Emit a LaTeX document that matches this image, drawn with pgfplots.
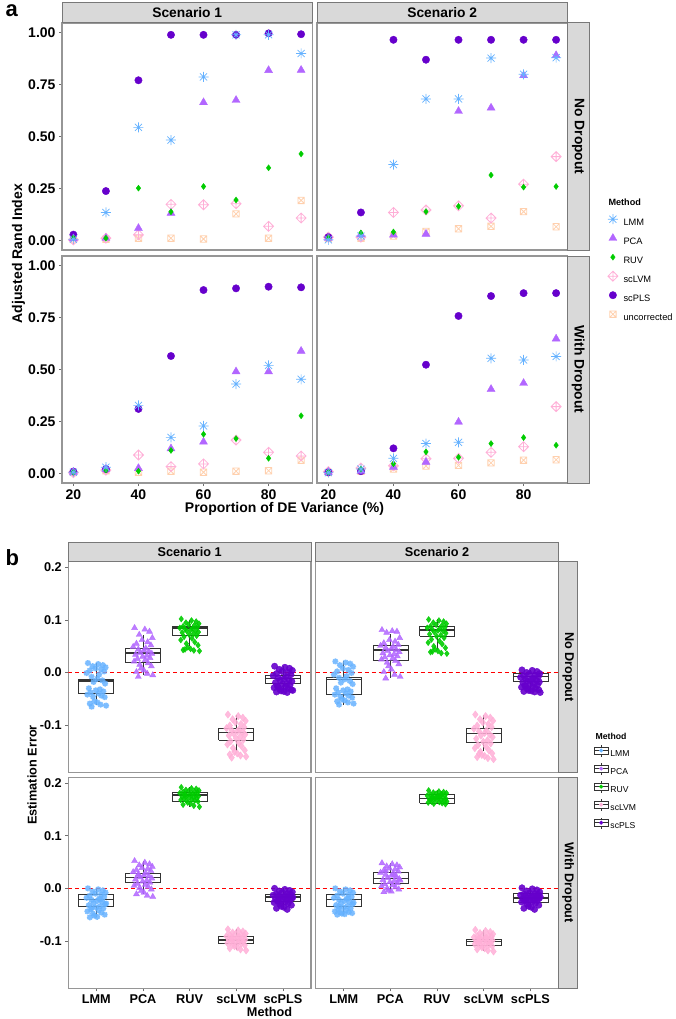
\documentclass[border=0pt]{standalone}
\usepackage{pgfplots}
\pgfplotsset{compat=1.18}
\usepackage{pgfplotstable}
\usepackage{fontspec}
\setmainfont{Liberation Sans}

\definecolor{lmmc}{RGB}{102,178,255}
\definecolor{pcac}{RGB}{178,102,255}
\definecolor{ruvc}{RGB}{0,204,0}
\definecolor{lvmc}{RGB}{255,175,215}
\definecolor{plsc}{RGB}{102,0,204}
\definecolor{uncc}{RGB}{255,200,160}
\definecolor{stripc}{RGB}{217,217,217}
\definecolor{stripb}{RGB}{120,120,120}
\definecolor{bordc}{RGB}{150,150,150}
\definecolor{tickc}{RGB}{110,110,110}

% ggplot-like point shapes
\pgfdeclareplotmark{star8}{%
  \pgfpathmoveto{\pgfqpoint{-\pgfplotmarksize}{0pt}}\pgfpathlineto{\pgfqpoint{\pgfplotmarksize}{0pt}}%
  \pgfpathmoveto{\pgfqpoint{0pt}{-\pgfplotmarksize}}\pgfpathlineto{\pgfqpoint{0pt}{\pgfplotmarksize}}%
  \pgfpathmoveto{\pgfqpoint{-.707\pgfplotmarksize}{-.707\pgfplotmarksize}}\pgfpathlineto{\pgfqpoint{.707\pgfplotmarksize}{.707\pgfplotmarksize}}%
  \pgfpathmoveto{\pgfqpoint{-.707\pgfplotmarksize}{.707\pgfplotmarksize}}\pgfpathlineto{\pgfqpoint{.707\pgfplotmarksize}{-.707\pgfplotmarksize}}%
  \pgfusepathqstroke}
\pgfdeclareplotmark{diamondplus}{%
  \pgfpathmoveto{\pgfqpoint{\pgfplotmarksize}{0pt}}\pgfpathlineto{\pgfqpoint{0pt}{\pgfplotmarksize}}%
  \pgfpathlineto{\pgfqpoint{-\pgfplotmarksize}{0pt}}\pgfpathlineto{\pgfqpoint{0pt}{-\pgfplotmarksize}}\pgfpathclose
  \pgfpathmoveto{\pgfqpoint{-\pgfplotmarksize}{0pt}}\pgfpathlineto{\pgfqpoint{\pgfplotmarksize}{0pt}}%
  \pgfpathmoveto{\pgfqpoint{0pt}{-\pgfplotmarksize}}\pgfpathlineto{\pgfqpoint{0pt}{\pgfplotmarksize}}%
  \pgfusepathqstroke}
\pgfdeclareplotmark{squarex}{%
  \pgfpathrectangle{\pgfqpoint{-.8\pgfplotmarksize}{-.8\pgfplotmarksize}}{\pgfqpoint{1.6\pgfplotmarksize}{1.6\pgfplotmarksize}}%
  \pgfpathmoveto{\pgfqpoint{-.8\pgfplotmarksize}{-.8\pgfplotmarksize}}\pgfpathlineto{\pgfqpoint{.8\pgfplotmarksize}{.8\pgfplotmarksize}}%
  \pgfpathmoveto{\pgfqpoint{-.8\pgfplotmarksize}{.8\pgfplotmarksize}}\pgfpathlineto{\pgfqpoint{.8\pgfplotmarksize}{-.8\pgfplotmarksize}}%
  \pgfusepathqstroke}

\pgfplotsset{
  base/.style={scale only axis, anchor=north west,
    axis line style={draw=bordc, line width=1.1pt},
    tick style={draw=tickc, line width=0.8pt},
    tick align=outside, major tick length=3pt, tick pos=left},
  aPanel/.style={base, width=250.5pt, height=227pt,
    xmin=16.5, xmax=93.5, ymin=-0.047, ymax=1.047,
    xtick={20,40,60,80}, xticklabels={20,40,60,80},
    ytick={0,0.25,0.5,0.75,1}, yticklabels={0.00,0.25,0.50,0.75,1.00},
    tick label style={font=\fontsize{14}{14}\selectfont\bfseries}},
  bPanel/.style={base, width=242.7pt,
    xmin=0.4, xmax=5.6, ymin=-0.19, ymax=0.211,
    xtick={1,2,3,4,5}, xticklabels={LMM,PCA,RUV,scLVM,scPLS},
    ytick={-0.1,0,0.1,0.2}, yticklabels={-0.1,0.0,0.1,0.2},
    tick label style={font=\fontsize{12.7}{12.7}\selectfont\bfseries}},
  mLMM/.style={color=lmmc, mark=star8, mark size=5pt, line width=0.7pt},
  mPCA/.style={color=pcac, mark=triangle*, mark size=4.6pt},
  mRUV/.style={color=ruvc, mark=diamond*, mark size=3pt},
  mLVM/.style={color=lvmc, mark=diamondplus, mark size=5pt, line width=0.8pt},
  mPLS/.style={color=plsc, mark=*, mark size=3.7pt},
  mUNC/.style={color=uncc, mark=squarex, mark size=4pt, line width=0.8pt, opacity=0.85},
  pLMM/.style={color=lmmc, mark=star8, mark size=3pt, line width=1.5pt, opacity=0.85},
  pPCA/.style={color=pcac, mark=triangle*, mark size=3.5pt, opacity=0.85},
  pRUV/.style={color=ruvc, mark=diamond*, mark size=3pt, opacity=0.9},
  pLVM/.style={color=lvmc, mark=diamond*, mark size=3.7pt, opacity=0.85},
  pPLS/.style={color=plsc, mark=*, mark size=3.2pt, opacity=0.9},
  bxleg/.style={legend image code/.code={%
    \path[draw=none,fill=none] (0pt,-3pt) rectangle (14pt,8.5pt);
    \draw[black!80,line width=0.6pt] (0pt,-0.2pt) rectangle (14pt,6.8pt)
      (0pt,3.3pt)--(14pt,3.3pt) (7pt,6.8pt)--(7pt,8.5pt) (7pt,-0.2pt)--(7pt,-3pt);
    \fill[#1] (7pt,3.3pt) circle (1.8pt);}},
}

% a: Adjusted Rand Index by proportion of DE variance
\pgfplotstableread{
x LMM PCA RUV scLVM scPLS unc
20 0.005 0.008 0.012 0.002 0.027 0.003
30 0.134 0.010 0.010 0.010 0.237 0.005
40 0.544 0.058 0.251 0.026 0.771 0.010
50 0.483 0.131 0.137 0.173 0.990 0.010
60 0.787 0.664 0.259 0.171 0.990 0.006
70 0.990 0.675 0.194 0.176 0.990 0.127
80 0.990 0.819 0.349 0.067 0.997 0.010
90 0.900 0.820 0.416 0.107 0.993 0.192
}\tAa
\pgfplotstableread{
x LMM PCA RUV scLVM scPLS unc
20 0.002 0.010 0.012 0.015 0.015 0.008
30 0.020 0.027 0.035 0.015 0.134 0.010
40 0.365 0.026 0.040 0.134 0.966 0.020
50 0.681 0.030 0.138 0.146 0.870 0.042
60 0.681 0.622 0.163 0.166 0.966 0.055
70 0.878 0.638 0.314 0.107 0.966 0.067
80 0.800 0.794 0.256 0.270 0.966 0.138
90 0.880 0.891 0.259 0.403 0.966 0.065
}\tAb
\pgfplotstableread{
x LMM PCA RUV scLVM scPLS unc
20 0.005 0.006 0.005 0.003 0.008 0.004
30 0.029 0.020 0.015 0.015 0.020 0.012
40 0.327 0.024 0.010 0.088 0.310 0.005
50 0.173 0.119 0.110 0.032 0.565 0.010
60 0.228 0.151 0.188 0.045 0.883 0.005
70 0.430 0.490 0.167 0.160 0.891 0.010
80 0.520 0.490 0.072 0.101 0.899 0.012
90 0.453 0.589 0.277 0.083 0.896 0.063
}\tAc
\pgfplotstableread{
x LMM PCA RUV scLVM scPLS unc
20 0.003 0.005 0.005 0.008 0.005 0.004
30 0.020 0.010 0.020 0.025 0.010 0.010
40 0.072 0.030 0.046 0.036 0.120 0.020
50 0.143 0.054 0.103 0.070 0.523 0.035
60 0.149 0.247 0.077 0.072 0.758 0.038
70 0.554 0.405 0.143 0.101 0.854 0.050
80 0.546 0.434 0.172 0.128 0.868 0.063
90 0.563 0.648 0.135 0.321 0.868 0.065
}\tAd

% b: estimation error, dx = jitter offset from the category position
\pgfplotstableread{
dx LMM PCA RUV scLVM scPLS
-0.18 0.018 0.085 0.102 -0.080 0.012
0.04 0.016 0.082 0.099 -0.083 0.010
0.14 0.014 0.078 0.097 -0.086 0.008
-0.08 0.012 0.072 0.095 -0.089 0.006
0.20 0.010 0.066 0.093 -0.092 0.004
-0.02 0.008 0.062 0.091 -0.095 0.002
0.10 0.006 0.058 0.090 -0.098 0.000
-0.14 0.004 0.055 0.088 -0.101 -0.002
0.17 0.002 0.052 0.087 -0.104 -0.004
-0.21 -0.001 0.049 0.085 -0.106 -0.006
0.06 -0.004 0.046 0.084 -0.108 -0.008
-0.10 -0.008 0.044 0.083 -0.110 -0.010
0.02 -0.012 0.042 0.081 -0.112 -0.012
0.13 -0.015 0.040 0.080 -0.114 -0.014
-0.06 -0.018 0.038 0.079 -0.116 -0.015
0.19 -0.021 0.036 0.077 -0.118 -0.017
-0.16 -0.030 0.034 0.076 -0.120 -0.019
0.08 -0.032 0.032 0.074 -0.122 -0.021
-0.01 -0.034 0.030 0.072 -0.125 -0.022
0.15 -0.036 0.028 0.070 -0.128 -0.024
-0.12 -0.038 0.026 0.068 -0.131 -0.026
0.05 -0.040 0.024 0.065 -0.134 -0.027
-0.19 -0.042 0.021 0.062 -0.137 -0.029
0.11 -0.044 0.018 0.058 -0.140 -0.030
-0.07 -0.046 0.015 0.055 -0.144 -0.032
0.18 -0.047 0.012 0.052 -0.148 -0.033
-0.04 -0.055 0.008 0.048 -0.151 -0.035
0.02 -0.057 0.004 0.045 -0.154 -0.036
-0.14 -0.059 0.001 0.043 -0.156 -0.037
0.09 -0.061 -0.002 0.042 -0.158 -0.038
0.21 -0.063 -0.005 0.041 -0.160 -0.034
-0.10 -0.065 -0.008 0.044 -0.162 -0.028
}\tBa
\pgfplotstableread{
dx LMM PCA RUV scLVM scPLS
-0.18 0.021 0.081 0.101 -0.080 0.005
0.04 0.019 0.079 0.099 -0.083 0.004
0.14 0.017 0.078 0.097 -0.086 0.002
-0.08 0.014 0.076 0.095 -0.089 0.000
0.20 0.011 0.066 0.093 -0.092 -0.002
-0.02 0.008 0.062 0.091 -0.095 -0.003
0.10 0.005 0.059 0.089 -0.098 -0.005
-0.14 0.002 0.056 0.088 -0.101 -0.006
0.17 -0.001 0.053 0.086 -0.104 -0.008
-0.21 -0.004 0.051 0.085 -0.107 -0.009
0.06 -0.007 0.049 0.083 -0.110 -0.011
-0.10 -0.010 0.047 0.082 -0.112 -0.012
0.02 -0.013 0.045 0.080 -0.115 -0.014
0.13 -0.016 0.043 0.079 -0.118 -0.015
-0.06 -0.019 0.041 0.077 -0.120 -0.016
0.19 -0.022 0.039 0.075 -0.123 -0.018
-0.16 -0.030 0.037 0.073 -0.126 -0.019
0.08 -0.032 0.035 0.071 -0.129 -0.021
-0.01 -0.034 0.033 0.069 -0.132 -0.022
0.15 -0.036 0.031 0.066 -0.135 -0.024
-0.12 -0.038 0.029 0.063 -0.138 -0.025
0.05 -0.040 0.027 0.060 -0.141 -0.027
-0.19 -0.042 0.025 0.057 -0.144 -0.028
0.11 -0.044 0.022 0.054 -0.148 -0.030
-0.07 -0.046 0.019 0.050 -0.151 -0.031
0.18 -0.048 0.016 0.047 -0.154 -0.033
-0.04 -0.051 0.012 0.044 -0.157 -0.034
0.02 -0.053 0.006 0.041 -0.159 -0.035
-0.14 -0.055 0.001 0.039 -0.161 -0.036
0.09 -0.057 -0.004 0.037 -0.163 -0.037
0.21 -0.059 -0.008 0.036 -0.165 -0.038
-0.10 -0.061 -0.011 0.040 -0.155 -0.026
}\tBb
\pgfplotstableread{
dx LMM PCA RUV scLVM scPLS
-0.18 0.000 0.052 0.192 -0.078 0.000
0.04 -0.002 0.049 0.190 -0.080 -0.002
0.14 -0.004 0.046 0.189 -0.082 -0.004
-0.08 -0.006 0.044 0.187 -0.084 -0.005
0.20 -0.008 0.041 0.186 -0.086 -0.007
-0.02 -0.010 0.039 0.185 -0.087 -0.008
0.10 -0.012 0.037 0.184 -0.088 -0.010
-0.14 -0.014 0.035 0.183 -0.089 -0.011
0.17 -0.016 0.033 0.182 -0.090 -0.012
-0.21 -0.018 0.031 0.181 -0.091 -0.013
0.06 -0.020 0.029 0.180 -0.092 -0.014
-0.10 -0.022 0.027 0.179 -0.093 -0.015
0.02 -0.024 0.025 0.178 -0.094 -0.016
0.13 -0.026 0.023 0.177 -0.095 -0.017
-0.06 -0.028 0.021 0.176 -0.096 -0.018
0.19 -0.030 0.019 0.175 -0.097 -0.019
-0.16 -0.032 0.017 0.174 -0.098 -0.020
0.08 -0.034 0.015 0.173 -0.099 -0.021
-0.01 -0.036 0.013 0.172 -0.100 -0.022
0.15 -0.038 0.011 0.171 -0.101 -0.023
-0.12 -0.040 0.009 0.170 -0.102 -0.024
0.05 -0.042 0.007 0.169 -0.103 -0.026
-0.19 -0.044 0.005 0.168 -0.104 -0.027
0.11 -0.046 0.003 0.167 -0.105 -0.029
-0.07 -0.048 0.001 0.166 -0.106 -0.030
0.18 -0.050 -0.002 0.165 -0.108 -0.032
-0.04 -0.052 -0.005 0.163 -0.110 -0.034
0.02 -0.054 -0.008 0.161 -0.112 -0.036
-0.14 -0.055 -0.011 0.159 -0.114 -0.038
0.09 -0.021 -0.014 0.157 -0.116 -0.040
0.21 -0.029 -0.016 0.155 -0.118 -0.017
-0.10 -0.037 0.024 0.176 -0.097 -0.025
}\tBc
\pgfplotstableread{
dx LMM PCA RUV scLVM scPLS
-0.18 0.000 0.048 0.186 -0.079 0.001
0.04 -0.002 0.046 0.184 -0.081 -0.001
0.14 -0.004 0.044 0.183 -0.083 -0.003
-0.08 -0.006 0.042 0.182 -0.085 -0.005
0.20 -0.008 0.040 0.181 -0.087 -0.007
-0.02 -0.010 0.038 0.180 -0.089 -0.009
0.10 -0.012 0.036 0.179 -0.090 -0.010
-0.14 -0.014 0.034 0.178 -0.091 -0.011
0.17 -0.016 0.032 0.177 -0.092 -0.012
-0.21 -0.018 0.030 0.176 -0.093 -0.013
0.06 -0.020 0.028 0.175 -0.094 -0.014
-0.10 -0.022 0.026 0.174 -0.095 -0.015
0.02 -0.024 0.024 0.173 -0.096 -0.016
0.13 -0.026 0.022 0.172 -0.097 -0.017
-0.06 -0.028 0.020 0.171 -0.098 -0.018
0.19 -0.030 0.018 0.170 -0.099 -0.019
-0.16 -0.032 0.016 0.169 -0.100 -0.020
0.08 -0.034 0.014 0.168 -0.101 -0.021
-0.01 -0.036 0.012 0.167 -0.102 -0.022
0.15 -0.038 0.010 0.166 -0.103 -0.023
-0.12 -0.040 0.008 0.165 -0.104 -0.024
0.05 -0.042 0.006 0.164 -0.105 -0.025
-0.19 -0.044 0.004 0.163 -0.106 -0.026
0.11 -0.045 0.002 0.162 -0.107 -0.028
-0.07 -0.046 0.000 0.161 -0.108 -0.030
0.18 -0.047 -0.002 0.160 -0.110 -0.032
-0.04 -0.048 -0.004 0.171 -0.112 -0.034
0.02 -0.049 -0.006 0.175 -0.114 -0.036
-0.14 -0.050 -0.007 0.168 -0.116 -0.038
0.09 -0.019 0.025 0.178 -0.118 -0.040
0.21 -0.027 0.015 0.165 -0.120 -0.016
-0.10 -0.035 0.033 0.172 -0.100 -0.022
}\tBd

\newcommand\Apoints[1]{%
  \addplot[only marks,mUNC,forget plot] table[x=x,y=unc]{#1};
  \addplot[only marks,mLVM,forget plot] table[x=x,y=scLVM]{#1};
  \addplot[only marks,mPLS,forget plot] table[x=x,y=scPLS]{#1};
  \addplot[only marks,mPCA,forget plot] table[x=x,y=PCA]{#1};
  \addplot[only marks,mRUV,forget plot] table[x=x,y=RUV]{#1};
  \addplot[only marks,mLMM,forget plot] table[x=x,y=LMM]{#1};
}
\newcommand\Bpoints[1]{%
  \addplot[only marks,pLMM,forget plot] table[x expr=\thisrow{dx}+1,y=LMM]{#1};
  \addplot[only marks,pPCA,forget plot] table[x expr=\thisrow{dx}+2,y=PCA]{#1};
  \addplot[only marks,pRUV,forget plot] table[x expr=\thisrow{dx}+3,y=RUV]{#1};
  \addplot[only marks,pLVM,forget plot] table[x expr=\thisrow{dx}+4,y=scLVM]{#1};
  \addplot[only marks,pPLS,forget plot] table[x expr=\thisrow{dx}+5,y=scPLS]{#1};
  \addplot[red, line width=0.8pt, dash pattern=on 4pt off 3pt, forget plot] coordinates {(0.4,0) (5.6,0)};
}
% box edges left/centre/right, median, upper quartile, lower quartile, upper whisker, lower whisker
\newcommand\bx[8]{%
  \addplot[black!80, line width=0.7pt, forget plot] coordinates {(#1,#6) (#3,#6) (#3,#5) (#1,#5) (#1,#6)};
  \addplot[black!80, line width=1.5pt, forget plot] coordinates {(#1,#4) (#3,#4)};
  \addplot[black!80, line width=0.7pt, forget plot] coordinates {(#2,#5) (#2,#7)};
  \addplot[black!80, line width=0.7pt, forget plot] coordinates {(#2,#6) (#2,#8)};
}

\begin{document}
\begin{tikzpicture}
\useasboundingbox (0pt,0pt) rectangle (675pt,-1019pt);

% ---------- a ----------
\begin{axis}[aPanel, at={(62pt,-23pt)}, xtick=\empty]
\Apoints{\tAa}
\end{axis}
\begin{axis}[aPanel, at={(317pt,-23pt)}, xtick=\empty, ytick=\empty,
  legend style={at={(1.1565,0.1617)}, anchor=north west, draw=none, fill=none,
    inner sep=0pt, row sep=4pt, column sep=4.6pt,
    font=\fontsize{9.3}{9.3}\selectfont,
    nodes={inner sep=0pt, text height=9pt, text depth=3pt}},
  legend cell align=left,
  legend image code/.code={\path[draw=none,fill=none] (-6pt,-3pt) rectangle (6pt,9pt);
    \draw[#1, only marks] plot coordinates {(0pt,3.3pt)};}]
\Apoints{\tAb}
\addlegendimage{mLMM}\addlegendentry{LMM}
\addlegendimage{mPCA}\addlegendentry{PCA}
\addlegendimage{mRUV}\addlegendentry{RUV}
\addlegendimage{mLVM}\addlegendentry{scLVM}
\addlegendimage{mPLS}\addlegendentry{scPLS}
\addlegendimage{mUNC}\addlegendentry{uncorrected}
\end{axis}
\begin{axis}[aPanel, at={(62pt,-256pt)}]
\Apoints{\tAc}
\end{axis}
\begin{axis}[aPanel, at={(317pt,-256pt)}, ytick=\empty]
\Apoints{\tAd}
\end{axis}

% strips a
\begin{scope}[draw=stripb, fill=stripc, line width=1pt]
\filldraw (62pt,-3pt) rectangle (312.5pt,-23pt);
\filldraw (317pt,-3pt) rectangle (567.5pt,-23pt);
\filldraw (567.5pt,-23pt) rectangle (589pt,-250pt);
\filldraw (567.5pt,-256pt) rectangle (589pt,-483pt);
\end{scope}
\begin{scope}[font=\fontsize{13.8}{13.8}\selectfont\bfseries]
\node at (187.25pt,-13pt) {Scenario 1};
\node at (442.25pt,-13pt) {Scenario 2};
\node[rotate=-90] at (578.25pt,-136.5pt) {No Dropout};
\node[rotate=-90] at (578.25pt,-369.5pt) {With Dropout};
\end{scope}
\node[anchor=base west, font=\fontsize{22}{22}\selectfont\bfseries] at (2pt,-17pt) {a};
\node[rotate=90, font=\fontsize{14}{14}\selectfont\bfseries] at (18.5pt,-253.5pt) {Adjusted Rand Index};
\node[font=\fontsize{14}{14}\selectfont\bfseries] at (284.5pt,-509pt) {Proportion of DE Variance (\%)};
\node[anchor=west, font=\fontsize{9.1}{9.1}\selectfont\bfseries] at (605pt,-202.7pt) {Method};

% ---------- b ----------
\begin{axis}[bPanel, height=210.6pt, at={(68.3pt,-561.7pt)}, xtick=\empty]
\bx{0.625}{1}{1.375}{-0.016}{-0.013}{-0.040}{0.018}{-0.061}
\bx{1.625}{2}{2.375}{0.037}{0.046}{0.020}{0.072}{-0.005}
\bx{2.625}{3}{3.375}{0.085}{0.087}{0.071}{0.100}{0.050}
\bx{3.625}{4}{4.375}{-0.114}{-0.107}{-0.129}{-0.080}{-0.150}
\bx{4.625}{5}{5.375}{-0.0115}{-0.005}{-0.020}{0.012}{-0.038}
\Bpoints{\tBa}
\end{axis}
\begin{axis}[bPanel, height=210.6pt, at={(315.7pt,-561.7pt)}, xtick=\empty, ytick=\empty,
  legend style={at={(1.1453,0.1306)}, anchor=north west, draw=none, fill=none,
    inner sep=0pt, row sep=3.5pt, column sep=2pt,
    font=\fontsize{8.6}{8.6}\selectfont,
    nodes={inner sep=0pt, text height=8.5pt, text depth=3pt}},
  legend cell align=left]
\bx{0.625}{1}{1.375}{-0.013}{-0.0095}{-0.041}{0.021}{-0.061}
\bx{1.625}{2}{2.375}{0.043}{0.052}{0.023}{0.074}{-0.010}
\bx{2.625}{3}{3.375}{0.081}{0.088}{0.069}{0.101}{0.045}
\bx{3.625}{4}{4.375}{-0.116}{-0.107}{-0.132}{-0.080}{-0.150}
\bx{4.625}{5}{5.375}{-0.008}{-0.002}{-0.017}{0.005}{-0.038}
\Bpoints{\tBb}
\addlegendimage{bxleg=lmmc}\addlegendentry{LMM}
\addlegendimage{bxleg=pcac}\addlegendentry{PCA}
\addlegendimage{bxleg=ruvc}\addlegendentry{RUV}
\addlegendimage{bxleg=lvmc}\addlegendentry{scLVM}
\addlegendimage{bxleg=plsc}\addlegendentry{scPLS}
\end{axis}
\begin{axis}[bPanel, height=211pt, at={(68.3pt,-777.3pt)}]
\bx{0.625}{1}{1.375}{-0.021}{-0.011}{-0.035}{0.000}{-0.055}
\bx{1.625}{2}{2.375}{0.021}{0.029}{0.012}{0.052}{-0.010}
\bx{2.625}{3}{3.375}{0.177}{0.183}{0.166}{0.192}{0.155}
\bx{3.625}{4}{4.375}{-0.098}{-0.092}{-0.105}{-0.078}{-0.118}
\bx{4.625}{5}{5.375}{-0.0165}{-0.011}{-0.024}{0.000}{-0.040}
\Bpoints{\tBc}
\end{axis}
\begin{axis}[bPanel, height=211pt, at={(315.7pt,-777.3pt)}, ytick=\empty]
\bx{0.625}{1}{1.375}{-0.021}{-0.011}{-0.035}{0.000}{-0.050}
\bx{1.625}{2}{2.375}{0.019}{0.031}{0.009}{0.048}{-0.007}
\bx{2.625}{3}{3.375}{0.171}{0.178}{0.162}{0.186}{0.160}
\bx{3.625}{4}{4.375}{-0.101}{-0.096}{-0.108}{-0.079}{-0.120}
\bx{4.625}{5}{5.375}{-0.018}{-0.010}{-0.026}{0.001}{-0.040}
\Bpoints{\tBd}
\end{axis}

% strips b
\begin{scope}[draw=stripb, fill=stripc, line width=1pt]
\filldraw (68.3pt,-542.7pt) rectangle (311pt,-561.7pt);
\filldraw (315.7pt,-542.7pt) rectangle (558.4pt,-561.7pt);
\filldraw (558.4pt,-561.7pt) rectangle (577.7pt,-772.3pt);
\filldraw (558.4pt,-777.3pt) rectangle (577.7pt,-988.3pt);
\end{scope}
\begin{scope}[font=\fontsize{12.7}{12.7}\selectfont\bfseries]
\node at (189.65pt,-552.2pt) {Scenario 1};
\node at (437.05pt,-552.2pt) {Scenario 2};
\node[rotate=-90] at (568.05pt,-667pt) {No Dropout};
\node[rotate=-90] at (568.05pt,-882.8pt) {With Dropout};
\end{scope}
\node[anchor=base west, font=\fontsize{22}{22}\selectfont\bfseries] at (2pt,-565pt) {b};
\node[rotate=90, font=\fontsize{12.7}{12.7}\selectfont\bfseries] at (32pt,-775pt) {Estimation Error};
\node[font=\fontsize{12.7}{12.7}\selectfont\bfseries] at (269.5pt,-1012pt) {Method};
\node[anchor=west, font=\fontsize{8.7}{8.7}\selectfont\bfseries] at (592pt,-736.7pt) {Method};
\end{tikzpicture}
\end{document}
